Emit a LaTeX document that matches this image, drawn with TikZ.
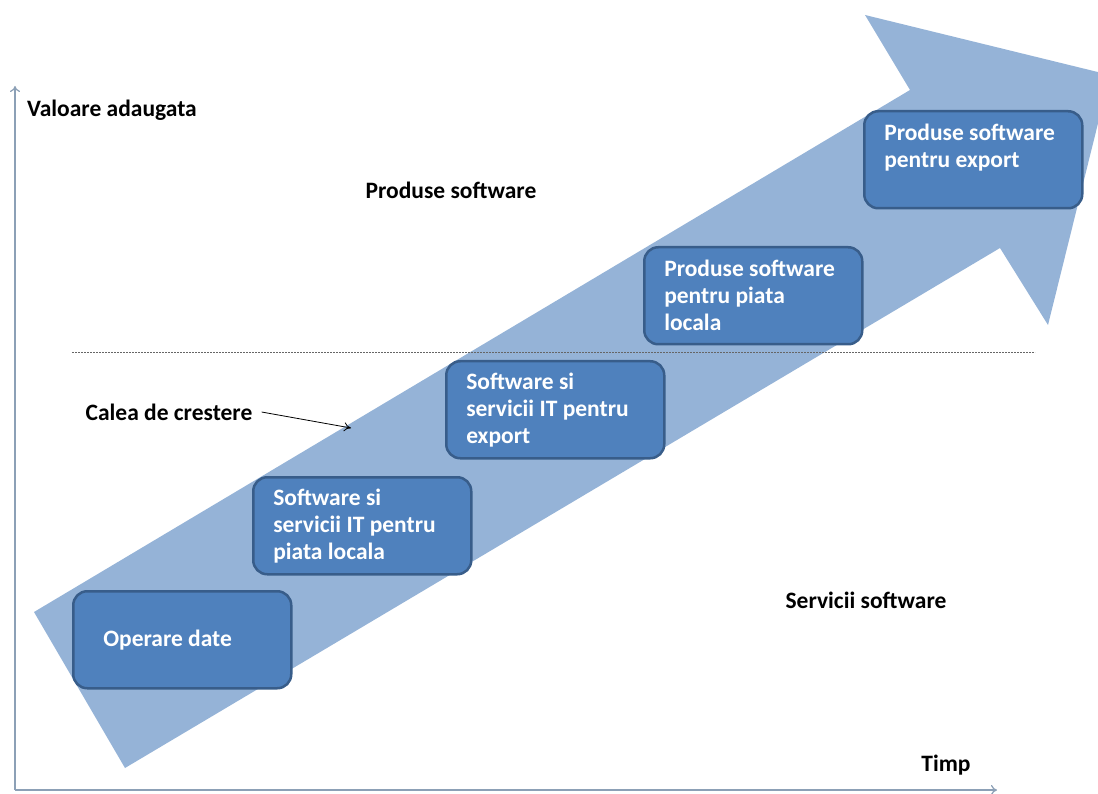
\documentclass[tikz,border=0pt]{standalone}
\usepackage{fontspec}
\setmainfont{Carlito}
\usepackage{tikz}
\usetikzlibrary{positioning,arrows.meta}

\definecolor{shaftblue}{RGB}{149,179,215}
\definecolor{boxblue}{RGB}{79,129,189}
\definecolor{boxline}{RGB}{56,93,138}
\definecolor{axisgray}{RGB}{140,160,182}

\begin{document}
\begin{tikzpicture}[x=1pt,y=-1pt]
	\tikzstyle{box}=[rectangle, rounded corners=14pt, fill=boxblue, draw=boxline, line width=2.5pt, minimum width=218pt, minimum height=97pt, inner xsep=20pt, text width=178pt, align=flush left, text=white, font=\fontsize{23.5}{27}\selectfont\bfseries, anchor=north west]
	\tikzstyle{lbl}=[font=\fontsize{23.5}{27}\selectfont\bfseries, text=black, inner sep=0pt]
	\tikzstyle{axis}=[-{To[length=6pt,width=10pt]}, axisgray, line width=1.2pt]
	\tikzstyle{connect}=[-{To[length=7pt,width=9pt]}, black, line width=0.8pt]
	\useasboundingbox (0,0) rectangle (1098,794);
	\clip (0,0) rectangle (1098,794);
	% big growth arrow
	\fill[shaftblue] (34,612) -- (910,90) -- (865,15) -- (1110,75) -- (1048,325) -- (1000,248) -- (125,768) -- cycle;
	% axes
	\coordinate (origin) at (15,790);
	\coordinate (ytop) at (15,86);
	\coordinate (xend) at (997,790);
	\draw[axis] (origin) -- (ytop);
	\draw[axis] (origin) -- (xend);
	% separation line
	\coordinate (sepL) at (72,352);
	\coordinate (sepR) at (1035,352);
	\draw[gray!80!black, line width=0.8pt, dash pattern=on 2pt off 1pt] (sepL) -- (sepR);
	% steps
	\node[box, inner xsep=30pt, text width=158pt] (date) at (72,590) {Operare date};
	\node[box] (local) at (252,476) {Software si\\servicii IT pentru\\piata locala};
	\node[box] (export) at (445,360) {Software si\\servicii IT pentru\\export};
	\node[box] (prodlocal) at (643,246) {Produse software\\pentru piata\\locala};
	\node[box] (prodexport) at (863,110) {Produse software\\pentru export\\\mbox{}};
	% labels
	\node[lbl] (valoare) at (112,110) {Valoare adaugata};
	\node[lbl] (produse) at (451,190) {Produse software};
	\node[lbl] (calea) at (169,412) {Calea de crestere};
	\node[lbl] (servicii) at (866,600) {Servicii software};
	\node[lbl] (timp) at (946,765) {Timp};
	\coordinate (cale) at (351,428);
	\draw[connect] ([xshift=9pt]calea.east) -- (cale);
\end{tikzpicture}
\end{document}
